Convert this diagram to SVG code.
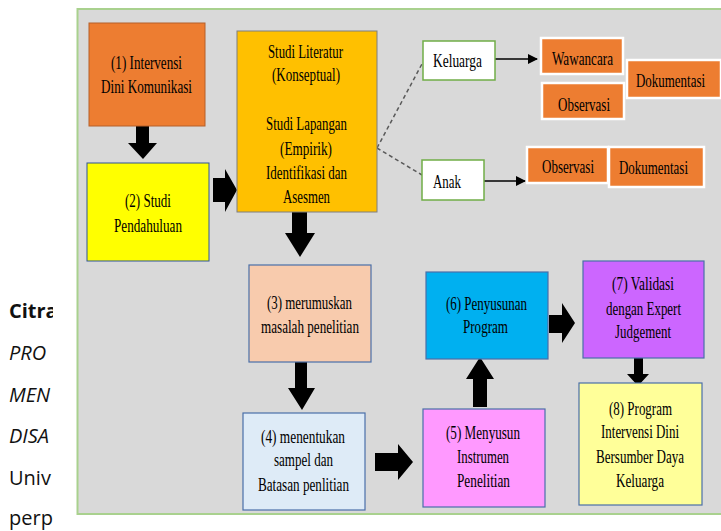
<svg xmlns="http://www.w3.org/2000/svg" width="721" height="531" viewBox="0 0 721 531">
<defs>
<style>
.t{font-family:"Liberation Serif","Times New Roman",serif;font-size:18px;fill:#000}
.s{font-family:"Open Sans","Noto Sans","DejaVu Sans",sans-serif;font-size:20px;fill:#111}
.blk{fill:#000}
.sq{stroke:#ffffff;stroke-width:2.5;fill:#ed7d31}
.wb{fill:#ffffff;stroke:#70ad47;stroke-width:1.5}
.nb{stroke:#4a6fa8;stroke-width:1.2}
</style>
<marker id="ah" markerWidth="10" markerHeight="10" refX="9" refY="5" orient="auto" markerUnits="userSpaceOnUse">
<path d="M0,0 L10,5 L0,10 Z" fill="#000"/>
</marker>
</defs>
<rect x="0" y="0" width="721" height="531" fill="#ffffff"/>
<g id="pagetext">
<text class="s" x="9" y="318" font-weight="bold">Citra</text>
<text class="s" x="9" y="360" font-style="italic">PRO</text>
<text class="s" x="9" y="402" font-style="italic">MEN</text>
<text class="s" x="9" y="443" font-style="italic">DISA</text>
<text class="s" x="9" y="485">Univ</text>
<text class="s" x="9" y="525">perp</text>
</g>
<rect x="53" y="0" width="668" height="531" fill="#ffffff"/>
<rect id="frame" x="77.5" y="9" width="660" height="505" fill="#d9d9d9" stroke="#a9d18e" stroke-width="2"/>

<g id="connectors">
<polygon class="blk" points="136,126 149,126 149,143 157,143 143,159 128,143 136,143"/>
<polygon class="blk" points="213,178 225,178 225,169 237,190 225,212 225,202 213,202"/>
<polygon class="blk" points="292,212 307,212 307,233 315,233 300,257 285,233 292,233"/>
<polygon class="blk" points="295,362 307,362 307,388 315,388 302,410 288,388 295,388"/>
<polygon class="blk" points="375,453 398,453 398,444 413,462 398,480 398,471 375,471"/>
<polygon class="blk" points="473,407 487,407 487,379 494,379 480,357 466,379 473,379"/>
<polygon class="blk" points="549,315 562,315 562,303 575,323 562,343 562,333 549,333"/>
<polygon class="blk" points="634,358 643,358 643,374 649,374 638,386 627,374 634,374"/>
<line x1="377" y1="148" x2="423" y2="62" stroke="#595959" stroke-width="1.5" stroke-dasharray="4,3"/>
<line x1="377" y1="148" x2="422" y2="175" stroke="#595959" stroke-width="1.5" stroke-dasharray="4,3"/>
<line x1="495" y1="59" x2="537" y2="59" stroke="#000" stroke-width="1.5" marker-end="url(#ah)"/>
<line x1="484" y1="181" x2="525" y2="181" stroke="#000" stroke-width="1.5" marker-end="url(#ah)"/>
</g>

<g id="n1">
<rect x="89" y="23" width="116" height="103" fill="#ed7d31" stroke="#b5602a" stroke-width="1"/>
<text class="t" x="111" y="69" textLength="71" lengthAdjust="spacingAndGlyphs">(1) Intervensi</text>
<text class="t" x="101" y="93" textLength="91" lengthAdjust="spacingAndGlyphs">Dini Komunikasi</text>
</g>
<g id="n2">
<rect x="87" y="163" width="122" height="98" fill="#ffff00" stroke="#2f5597" stroke-width="1"/>
<text class="t" x="125" y="207" textLength="46" lengthAdjust="spacingAndGlyphs">(2) Studi</text>
<text class="t" x="114" y="232" textLength="68" lengthAdjust="spacingAndGlyphs">Pendahuluan</text>
</g>
<g id="nlit">
<rect x="237" y="31" width="140" height="181" fill="#ffc000" stroke="#7f7f7f" stroke-width="1"/>
<text class="t" x="268" y="58" textLength="75" lengthAdjust="spacingAndGlyphs">Studi Literatur</text>
<text class="t" x="272" y="81" textLength="68" lengthAdjust="spacingAndGlyphs">(Konseptual)</text>
<text class="t" x="266" y="130" textLength="81" lengthAdjust="spacingAndGlyphs">Studi Lapangan</text>
<text class="t" x="280" y="155" textLength="52" lengthAdjust="spacingAndGlyphs">(Empirik)</text>
<text class="t" x="266" y="179" textLength="81" lengthAdjust="spacingAndGlyphs">Identifikasi dan</text>
<text class="t" x="283" y="203" textLength="47" lengthAdjust="spacingAndGlyphs">Asesmen</text>
</g>
<g id="nkel">
<rect class="wb" x="423" y="41" width="72" height="39"/>
<text class="t" x="433" y="67" textLength="49" lengthAdjust="spacingAndGlyphs" font-size="19">Keluarga</text>
</g>
<g id="nanak">
<rect class="wb" x="422" y="160" width="62" height="40"/>
<text class="t" x="433" y="188" textLength="28" lengthAdjust="spacingAndGlyphs" font-size="19">Anak</text>
</g>
<g id="nwaw">
<rect class="sq" x="541" y="38" width="82" height="36"/>
<text class="t" x="552" y="65" textLength="61" lengthAdjust="spacingAndGlyphs" font-size="19">Wawancara</text>
</g>
<g id="nobs1">
<rect class="sq" x="542" y="83" width="82" height="36"/>
<text class="t" x="558" y="111" textLength="52" lengthAdjust="spacingAndGlyphs" font-size="19">Observasi</text>
</g>
<g id="ndok1">
<rect class="sq" x="627" y="60" width="94" height="38"/>
<text class="t" transform="translate(636,87) scale(0.7,1)" x="0" y="0" textLength="98.6" lengthAdjust="spacingAndGlyphs" font-size="20">Dokumentasi</text>
</g>
<g id="nobs2">
<rect class="sq" x="527" y="147" width="81" height="36"/>
<text class="t" x="542" y="173" textLength="52" lengthAdjust="spacingAndGlyphs" font-size="19">Observasi</text>
</g>
<g id="ndok2">
<rect class="sq" x="609" y="147" width="95" height="40"/>
<text class="t" x="619" y="174" textLength="69" lengthAdjust="spacingAndGlyphs" font-size="20">Dokumentasi</text>
</g>
<g id="n3">
<rect class="nb" x="249" y="265" width="122" height="97" fill="#f8cbad"/>
<text class="t" x="267" y="309" textLength="85" lengthAdjust="spacingAndGlyphs" font-size="17">(3) merumuskan</text>
<text class="t" x="261" y="333" textLength="98" lengthAdjust="spacingAndGlyphs" font-size="17">masalah penelitian</text>
</g>
<g id="n4">
<rect class="nb" x="243" y="413" width="122" height="97" fill="#deebf7"/>
<text class="t" x="261" y="443" textLength="84" lengthAdjust="spacingAndGlyphs" font-size="17">(4) menentukan</text>
<text class="t" x="274" y="466" textLength="59" lengthAdjust="spacingAndGlyphs" font-size="17">sampel dan</text>
<text class="t" x="258" y="491" textLength="91" lengthAdjust="spacingAndGlyphs" font-size="17">Batasan penlitian</text>
</g>
<g id="n5">
<rect class="nb" x="423" y="409" width="122" height="98" fill="#ff99ff"/>
<text class="t" x="446" y="439" textLength="74" lengthAdjust="spacingAndGlyphs">(5) Menyusun</text>
<text class="t" x="457" y="463" textLength="52" lengthAdjust="spacingAndGlyphs">Instrumen</text>
<text class="t" x="457" y="487" textLength="53" lengthAdjust="spacingAndGlyphs">Penelitian</text>
</g>
<g id="n6">
<rect class="nb" x="426" y="272" width="122" height="87" fill="#00b0f0"/>
<text class="t" x="446" y="310" textLength="81" lengthAdjust="spacingAndGlyphs">(6) Penyusunan</text>
<text class="t" x="463" y="333" textLength="45" lengthAdjust="spacingAndGlyphs">Program</text>
</g>
<g id="n7">
<rect class="nb" x="583" y="261" width="121" height="97" fill="#cc66ff"/>
<text class="t" x="612" y="290" textLength="62" lengthAdjust="spacingAndGlyphs">(7) Validasi</text>
<text class="t" x="606" y="315" textLength="75" lengthAdjust="spacingAndGlyphs">dengan Expert</text>
<text class="t" x="615" y="338" textLength="56" lengthAdjust="spacingAndGlyphs">Judgement</text>
</g>
<g id="n8">
<rect class="nb" x="579" y="383" width="123" height="122" fill="#ffff99"/>
<text class="t" x="609" y="415" textLength="63" lengthAdjust="spacingAndGlyphs">(8) Program</text>
<text class="t" x="601" y="438" textLength="78" lengthAdjust="spacingAndGlyphs">Intervensi Dini</text>
<text class="t" x="596" y="463" textLength="88" lengthAdjust="spacingAndGlyphs">Bersumber Daya</text>
<text class="t" x="616" y="487" textLength="48" lengthAdjust="spacingAndGlyphs">Keluarga</text>
</g>
</svg>
